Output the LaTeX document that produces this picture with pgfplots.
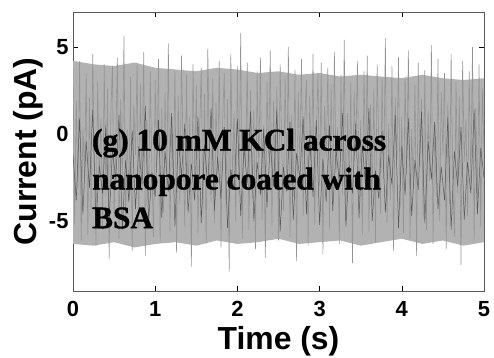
\documentclass[border=0pt]{standalone}
\usepackage{fontspec}
\setmainfont{Liberation Sans}
\newfontfamily\timesbf[BoldFeatures={FakeBold=1.2}]{Liberation Serif}
\usepackage{pgfplots}
\pgfplotsset{compat=1.18}
\pgfplotstableread{
x y
0.00 3.8
0.02 -5.2
0.04 1.9
0.06 -3.1
0.08 4.2
0.10 -6.1
0.12 0.4
0.14 -2.2
0.16 3.5
0.18 -5.8
0.20 2.1
0.22 -4.3
0.24 4.6
0.26 -1.5
0.28 -6.4
0.30 3.0
0.32 -2.7
0.34 0.9
0.36 -5.5
0.38 4.0
0.40 -3.6
0.42 2.6
0.44 -7.2
0.46 1.2
0.48 3.9
0.50 -4.8
0.52 -0.6
0.54 4.4
0.56 -6.0
0.58 2.0
0.60 -2.4
0.62 5.6
0.64 -5.0
0.66 0.3
0.68 -3.8
0.70 3.3
0.72 -6.7
0.74 1.7
0.76 -1.2
0.78 4.1
0.80 -5.4
0.82 2.9
0.84 -3.3
0.86 4.7
0.88 -7.0
0.90 0.8
0.92 -4.1
0.94 3.6
0.96 -2.0
0.98 -5.9
1.00 3.1
1.02 -1.8
1.04 4.3
1.06 -6.2
1.08 1.5
1.10 -4.5
1.12 2.4
1.14 -3.0
1.16 5.2
1.18 -5.6
1.20 0.6
1.22 -2.9
1.24 3.7
1.26 -6.8
1.28 2.2
1.30 -4.0
1.32 4.5
1.34 -1.1
1.36 -5.3
1.38 3.4
1.40 -3.5
1.42 1.0
1.44 -7.6
1.46 4.0
1.48 -2.5
1.50 2.8
1.52 -5.7
1.54 0.1
1.56 3.8
1.58 -4.6
1.60 2.3
1.62 -6.3
1.64 4.9
1.66 -1.6
1.68 -3.9
1.70 3.2
1.72 -5.1
1.74 1.8
1.76 -2.3
1.78 4.2
1.80 -6.5
1.82 0.7
1.84 3.5
1.86 -4.2
1.88 2.0
1.90 -7.9
1.92 4.6
1.94 -2.6
1.96 1.3
1.98 -5.0
2.00 3.9
2.02 -3.4
2.04 5.8
2.06 -6.0
2.08 0.2
2.10 -1.9
2.12 4.1
2.14 -5.5
2.16 2.5
2.18 -3.7
2.20 1.4
2.22 -6.6
2.24 3.6
2.26 -2.1
2.28 4.4
2.30 -4.9
2.32 0.5
2.34 -7.1
2.36 3.0
2.38 -1.3
2.40 4.8
2.42 -5.3
2.44 1.9
2.46 -3.2
2.48 2.7
2.50 -6.1
2.52 4.0
2.54 -0.8
2.56 -4.4
2.58 3.3
2.60 -2.7
2.62 5.0
2.64 -5.9
2.66 1.1
2.68 -3.6
2.70 3.7
2.72 -7.3
2.74 2.4
2.76 -1.7
2.78 4.3
2.80 -4.7
2.82 0.9
2.84 3.1
2.86 -6.4
2.88 2.2
2.90 -2.4
2.92 4.6
2.94 -5.2
2.96 0.0
2.98 3.5
3.00 -3.0
3.02 4.1
3.04 -6.9
3.06 1.6
3.08 -1.4
3.10 3.8
3.12 -5.4
3.14 2.9
3.16 -4.0
3.18 4.7
3.20 -2.2
3.22 0.4
3.24 -6.3
3.26 3.4
3.28 -3.5
3.30 5.4
3.32 -5.0
3.34 1.2
3.36 -2.8
3.38 3.0
3.40 -7.4
3.42 2.5
3.44 -1.0
3.46 4.2
3.48 -4.3
3.50 0.8
3.52 -5.8
3.54 3.6
3.56 -2.0
3.58 4.5
3.60 -5.6
3.62 1.7
3.64 -3.3
3.66 2.6
3.68 -6.2
3.70 4.0
3.72 -0.5
3.74 -4.6
3.76 3.2
3.78 -2.6
3.80 5.5
3.82 -5.1
3.84 0.6
3.86 -3.8
3.88 3.9
3.90 -6.7
3.92 2.1
3.94 -1.5
3.96 4.4
3.98 -4.2
4.00 1.0
4.02 -5.7
4.04 3.3
4.06 -2.3
4.08 4.8
4.10 -6.0
4.12 0.3
4.14 -3.1
4.16 2.8
4.18 -7.0
4.20 4.1
4.22 -1.9
4.24 2.0
4.26 -4.8
4.28 3.7
4.30 -5.5
4.32 1.4
4.34 -2.7
4.36 5.1
4.38 -6.3
4.40 0.7
4.42 -3.6
4.44 4.3
4.46 -5.0
4.48 2.4
4.50 -1.2
4.52 3.5
4.54 -6.6
4.56 1.8
4.58 -4.0
4.60 4.6
4.62 -2.5
4.64 -5.9
4.66 3.0
4.68 -3.4
4.70 2.2
4.72 -7.5
4.74 4.2
4.76 -1.6
4.78 0.9
4.80 -4.7
4.82 3.6
4.84 -2.9
4.86 5.0
4.88 -6.1
4.90 1.5
4.92 -3.7
4.94 4.0
4.96 -5.3
4.98 2.6
5.00 -1.0
}\traceA
\pgfplotstableread{
x y
0.00 -1.2
0.04 -3.8
0.08 0.9
0.12 -4.6
0.16 -0.4
0.20 -3.1
0.24 1.4
0.28 -5.2
0.32 -1.8
0.36 -3.4
0.40 0.5
0.44 -4.9
0.48 -0.9
0.52 -2.6
0.56 1.1
0.60 -5.5
0.64 -1.5
0.68 -3.9
0.72 0.2
0.76 -4.3
0.80 -0.7
0.84 -2.9
0.88 1.6
0.92 -5.0
0.96 -2.2
1.00 -3.6
1.04 0.8
1.08 -4.8
1.12 -1.0
1.16 -3.3
1.20 1.2
1.24 -5.3
1.28 -0.3
1.32 -2.4
1.36 0.6
1.40 -4.5
1.44 -1.7
1.48 -3.8
1.52 1.0
1.56 -5.1
1.60 -0.6
1.64 -3.0
1.68 1.5
1.72 -4.4
1.76 -1.3
1.80 -3.7
1.84 0.4
1.88 -5.4
1.92 -2.0
1.96 -3.2
2.00 0.9
2.04 -4.7
2.08 -0.8
2.12 -2.8
2.16 1.3
2.20 -5.0
2.24 -1.6
2.28 -3.5
2.32 0.3
2.36 -4.2
2.40 -0.5
2.44 -3.0
2.48 1.4
2.52 -5.6
2.56 -1.9
2.60 -3.3
2.64 0.7
2.68 -4.9
2.72 -1.1
2.76 -2.5
2.80 1.0
2.84 -4.6
2.88 -0.2
2.92 -3.6
2.96 0.8
3.00 -5.2
3.04 -1.4
3.08 -3.9
3.12 0.5
3.16 -4.4
3.20 -0.9
3.24 -2.7
3.28 1.2
3.32 -5.3
3.36 -1.8
3.40 -3.4
3.44 0.6
3.48 -4.8
3.52 -0.6
3.56 -3.1
3.60 1.5
3.64 -5.0
3.68 -2.1
3.72 -3.7
3.76 0.2
3.80 -4.5
3.84 -1.2
3.88 -2.9
3.92 1.1
3.96 -5.4
4.00 -0.7
4.04 -3.5
4.08 0.9
4.12 -4.7
4.16 -1.5
4.20 -3.2
4.24 1.3
4.28 -5.1
4.32 -0.4
4.36 -2.6
4.40 0.7
4.44 -4.3
4.48 -1.9
4.52 -3.8
4.56 1.0
4.60 -5.5
4.64 -1.0
4.68 -3.0
4.72 0.4
4.76 -4.9
4.80 -1.6
4.84 -3.4
4.88 1.4
4.92 -4.6
4.96 -0.8
5.00 -2.5
}\traceB
\begin{document}
\begin{tikzpicture}
\begin{axis}[
  name=ax,
  scale only axis,
  width=411bp, height=279bp,
  xmin=0, xmax=5, ymin=-9, ymax=7,
  xtick={0,1,2,3,4,5}, ytick={-5,0,5},
  tick align=inside,
  major tick length=5bp,
  axis line style={black!65, line width=0.5pt},
  tick style={black, line width=0.6pt},
  /pgf/number format/assume math mode=true,
  tick label style={font=\fontsize{22}{22}\selectfont\bfseries},
  label style={font=\fontsize{32}{32}\selectfont\bfseries},
  xlabel={Time (s)},
  ylabel={Current (pA)},
  xlabel style={yshift=-2bp},
  ylabel style={yshift=-1bp},
  xticklabel style={yshift=-7bp},
  yticklabel style={xshift=-1bp},
  clip=true,
]
% dense envelope of the noise band
\addplot[fill=black!30, draw=none] coordinates {
(0.00,4.2) (0.25,4.0) (0.50,3.9) (0.75,4.1) (1.00,3.8) (1.25,3.7) (1.50,3.6) (1.75,3.8) (2.00,3.7) (2.25,3.5) (2.50,3.6) (2.75,3.4) (3.00,3.5) (3.25,3.3) (3.50,3.4) (3.75,3.3) (4.00,3.2) (4.25,3.4) (4.50,3.2) (4.75,3.1) (5.00,3.2)
(5.00,-6.2) (4.75,-6.4) (4.50,-6.1) (4.25,-6.3) (4.00,-6.0) (3.75,-6.2) (3.50,-6.4) (3.25,-6.1) (3.00,-6.2) (2.75,-6.3) (2.50,-6.0) (2.25,-6.2) (2.00,-6.3) (1.75,-6.1) (1.50,-6.4) (1.25,-6.2) (1.00,-6.3) (0.75,-6.5) (0.50,-6.2) (0.25,-6.4) (0.00,-6.3)
} -- cycle;
\addplot[black!42, line width=0.6pt, line join=bevel] table {\traceA};
\addplot[black!65, line width=0.5pt, line join=bevel] table {\traceB};
\node[anchor=base west, align=left, inner sep=0pt, font=\timesbf\fontsize{31.5}{39}\selectfont\bfseries]
  at (axis cs:0.23,-5.4) {(g) 10 mM KCl across\\nanopore coated with\\BSA};
\end{axis}
\pgfresetboundingbox
\path ([xshift=-73bp,yshift=-66bp]ax.south west) rectangle ([xshift=10bp,yshift=12bp]ax.north east);
\end{tikzpicture}
\end{document}
